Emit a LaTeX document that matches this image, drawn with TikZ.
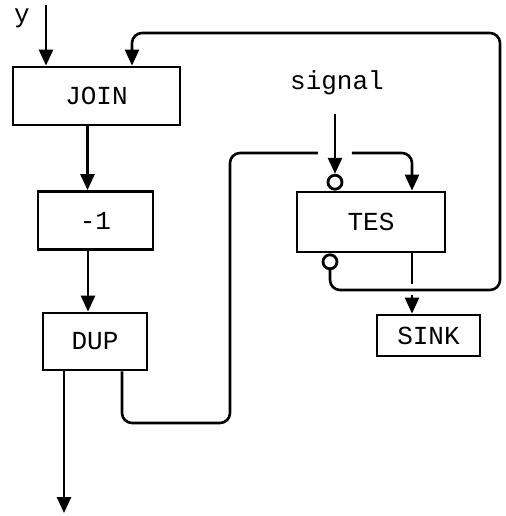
\documentclass[tikz,border=0pt]{standalone}
\usepackage{fontspec}
\setmonofont{Liberation Mono}
\usetikzlibrary{arrows.meta, positioning, calc}

\begin{document}
\begin{tikzpicture}[
    x=0.5pt, y=-0.5pt,
    every node/.style={font=\ttfamily\fontsize{13}{15}\selectfont},
    block/.style={rectangle, draw, line width=1.4pt, minimum height=29pt, align=center},
    bubble/.style={circle, draw, line width=1.4pt, minimum size=7pt, inner sep=0pt},
    wire/.style={line width=1.3pt, rounded corners=5pt},
    arrow/.style={wire, -{Triangle[width=7pt, length=8pt]}}
]
\useasboundingbox (0,0) rectangle (506,516);

% Left chain
\node[block, minimum width=83.5pt] (join) at (96.5,96) {JOIN};
\node[block, minimum width=57.5pt] (minus) at (95.5,220.5) {-1};
\node[block, minimum width=52pt, minimum height=28.5pt] (dup) at (95,341.5) {DUP};

% Right part
\node[block, minimum width=74pt, minimum height=30pt] (tes) at (371,222) {TES};
\node[block, minimum width=51.5pt, minimum height=20.5pt] (sink) at (428.5,335.5) {SINK};
\node[bubble, above=0pt of tes.north, xshift=-18pt] (nt) {};
\node[bubble, below=0pt of tes.south, xshift=-20.5pt] (nb) {};

% Labels
\node (ylab) at (22,18) {y};
\node (sig) at (337,83) {signal};

% Free ends and crossings
\coordinate (yin) at (46,5);
\coordinate (out) at (64,513);
\coordinate (lo) at (230,423);
\coordinate (hi) at (230,153);
\coordinate (gapl) at (318,153);
\coordinate (gapr) at (352,153);
\coordinate (rbot) at (500,290);
\coordinate (rtop) at (500,33);
\coordinate (xa) at (412,284);
\coordinate (xb) at (412,295);

% Left chain arrows
\draw[arrow] (yin) -- (yin |- join.north);
\draw[arrow] ([xshift=-4.5pt]join.south) -- ([xshift=-4pt]minus.north);
\draw[arrow] ([xshift=-3.75pt]minus.south) -- ([xshift=-3.5pt]dup.north);
\draw[arrow] (dup.south -| out) -- (out);

% DUP to TES
\draw[wire] ([xshift=13.5pt]dup.south) |- (lo) -- (hi) -- (gapl);
\draw[arrow] (gapr) -| ([xshift=20.5pt]tes.north);
\draw[arrow, shorten <=6pt] (nt.north |- sig.south) -- (nt.north);

% Feedback to JOIN
\draw[arrow] (nb.south) |- (rbot) -- (rtop) -| ([xshift=17.75pt]join.north);

% TES to SINK
\draw[wire] ([xshift=20.5pt]tes.south) -- (xa);
\draw[arrow] (xb) -- (xb |- sink.north);

\end{tikzpicture}
\end{document}
